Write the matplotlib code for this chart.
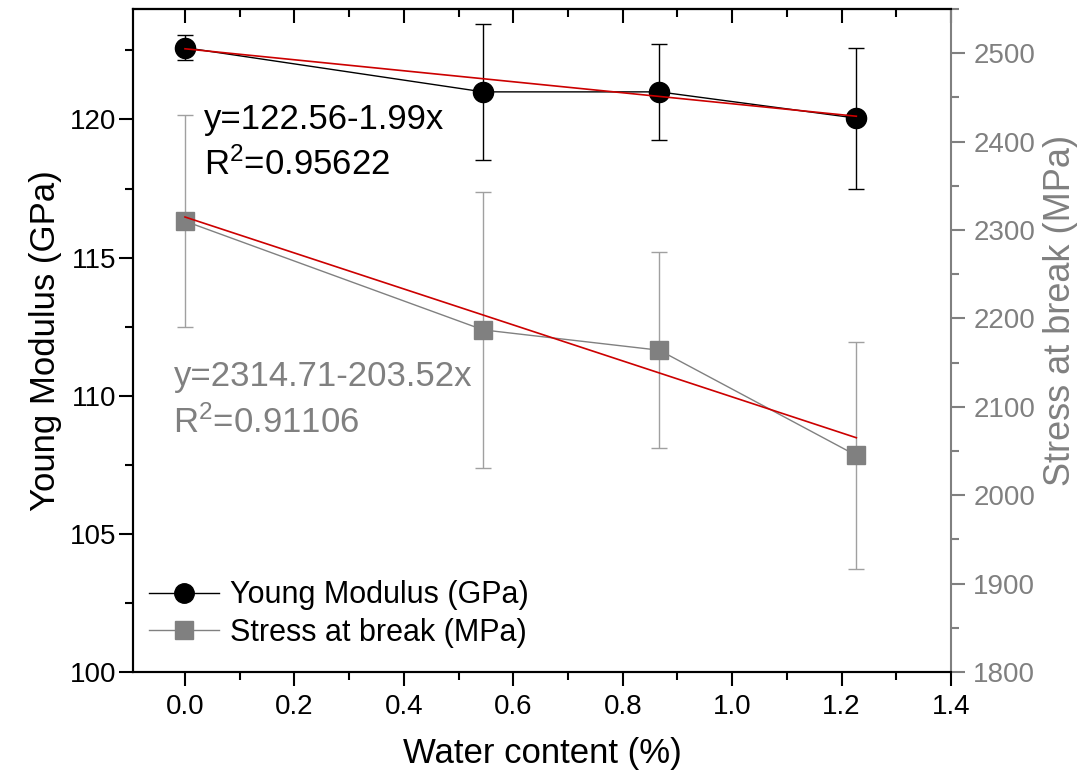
import matplotlib
matplotlib.use("Agg")
import matplotlib.pyplot as plt
from matplotlib.ticker import MultipleLocator, FormatStrFormatter
from matplotlib.lines import Line2D

plt.rcParams['font.family'] = ['Liberation Sans', 'DejaVu Sans']
plt.rcParams['mathtext.fontset'] = 'custom'
plt.rcParams['mathtext.rm'] = 'Liberation Sans'
plt.rcParams['mathtext.it'] = 'Liberation Sans'
plt.rcParams['mathtext.default'] = 'regular'

# Data
water = [0.0, 0.545, 0.867, 1.227]
young = [122.6, 121.0, 121.0, 120.05]
young_err = [0.45, 2.45, 1.73, 2.55]
stress = [2310, 2187, 2164, 2045]
stress_err = [120, 156, 111, 128]

young_fit = (122.56, -1.99)
stress_fit = (2314.71, -203.52)

GRAY = '#808080'
EGRAY = '#a0a0a0'
RED = '#cc0000'

fig = plt.figure(figsize=(10.86, 7.78), dpi=100)
ax = fig.add_axes([133/1086, 1-672/778, (951-133)/1086, (672-9)/778])
ax2 = ax.twinx()

# Young modulus
ax.errorbar(water, young, yerr=young_err, color='black', lw=1.0, marker='o',
            ms=14.5, elinewidth=1.0, capsize=6, capthick=1.0, zorder=3)
xf = [water[0], water[-1]]
ax.plot(xf, [young_fit[0] + young_fit[1]*v for v in xf], color=RED, lw=1.2, zorder=4)

# Stress
ax2.errorbar(water, stress, yerr=stress_err, color=GRAY, lw=1.0, marker='s',
             ms=13.5, ecolor=EGRAY, elinewidth=1.0, capsize=6, capthick=1.0, zorder=3)
ax2.plot(xf, [stress_fit[0] + stress_fit[1]*v for v in xf], color=RED, lw=1.2, zorder=4)

ax.set_xlim(-0.095, 1.4)
ax.set_ylim(100, 124)
ax2.set_ylim(1800, 2550)

ax.xaxis.set_major_locator(MultipleLocator(0.2))
ax.xaxis.set_minor_locator(MultipleLocator(0.1))
ax.yaxis.set_major_locator(MultipleLocator(5))
ax.yaxis.set_minor_locator(MultipleLocator(2.5))
ax2.yaxis.set_major_locator(MultipleLocator(100))
ax2.yaxis.set_minor_locator(MultipleLocator(50))
ax.xaxis.set_major_formatter(FormatStrFormatter('%.1f'))

ax.tick_params(axis='x', which='both', direction='out', top=False, labelsize=20, pad=6)
ax.tick_params(axis='x', which='major', length=10, width=1.5)
ax.tick_params(axis='x', which='minor', length=6, width=1.5)
ax.tick_params(axis='y', which='both', direction='out', labelsize=20, pad=2)
ax.tick_params(axis='y', which='major', length=10, width=1.5)
ax.tick_params(axis='y', which='minor', length=6, width=1.5)
ax2.tick_params(axis='y', which='both', direction='out', colors=GRAY, labelsize=20, pad=6)
ax2.tick_params(axis='y', which='major', length=10, width=1.5)
ax2.tick_params(axis='y', which='minor', length=6, width=1.5)

# top ticks inward
secx = ax.secondary_xaxis('top')
secx.xaxis.set_major_locator(MultipleLocator(0.2))
secx.xaxis.set_minor_locator(MultipleLocator(0.1))
secx.tick_params(which='both', direction='in', labeltop=False, width=1.5)
secx.tick_params(which='major', length=10)
secx.tick_params(which='minor', length=6)
secx.spines['top'].set_linewidth(1.5)

for s in ['left', 'bottom', 'top']:
    ax.spines[s].set_linewidth(1.5)
    ax2.spines[s].set_linewidth(1.5)
ax2.spines['right'].set_color(GRAY)
ax2.spines['right'].set_linewidth(1.5)
ax.spines['right'].set_visible(False)

ax.set_xlabel('Water content (%)', fontsize=25, labelpad=12)
ax.set_ylabel('Young Modulus (GPa)', fontsize=25, labelpad=6)
ax2.set_ylabel('Stress at break (MPa)', fontsize=26, color=GRAY)
ax2.yaxis.set_label_coords(1.112, 0.545)

ax.text(0.034, 119.67, 'y=122.56-1.99x', fontsize=25, va='baseline', ha='left')
ax.text(0.034, 118.0, 'R$^2$=0.95622', fontsize=25, va='baseline', ha='left')
ax.text(-0.021, 110.36, 'y=2314.71-203.52x', fontsize=25, va='baseline', ha='left', color=GRAY)
ax.text(-0.021, 108.66, 'R$^2$=0.91106', fontsize=25, va='baseline', ha='left', color=GRAY)

handles = [Line2D([], [], color='black', lw=1.0, marker='o', ms=14),
           Line2D([], [], color=GRAY, lw=1.0, marker='s', ms=13)]
leg = ax.legend(handles, ['Young Modulus (GPa)', 'Stress at break (MPa)'],
                loc='lower left', bbox_to_anchor=(-0.007, 0.004), fontsize=22, frameon=False,
                handlelength=2.3, handletextpad=0.35, labelspacing=0.25, borderaxespad=0.3)

fig.savefig('out.png', dpi=100)
